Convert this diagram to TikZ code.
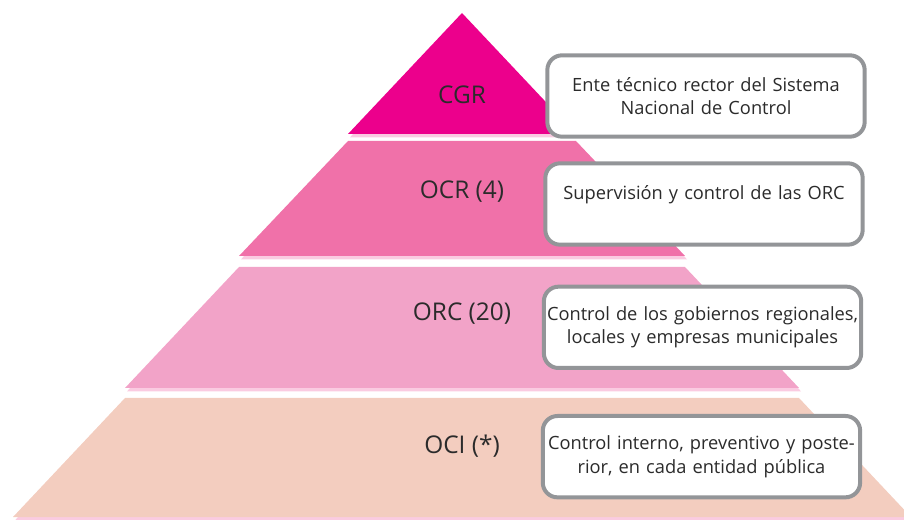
\documentclass[tikz,border=0pt]{standalone}
\usepackage{fontspec}
\setmainfont{Open Sans}
\usepackage{tikz}
\usetikzlibrary{positioning, shadows}
\definecolor{cgrcol}{HTML}{EC008C}
\definecolor{ocrcol}{HTML}{F071A9}
\definecolor{orccol}{HTML}{F2A3C8}
\definecolor{ocicol}{HTML}{F3CDBF}
\definecolor{glow}{HTML}{F06BA8}
\definecolor{boxline}{HTML}{939598}
\definecolor{ink}{HTML}{2B2B2B}
\tikzstyle{layer} = [drop shadow = {shadow xshift = 1.5pt, shadow yshift = -2.5pt, fill = glow, opacity = 0.35}]
\tikzstyle{level} = [text = ink, font = \fontsize{18.3}{21}\selectfont]
\tikzstyle{task} = [rectangle, rounded corners = 11pt, line width = 3pt, draw = boxline, fill = white, inner xsep = 2pt, text width = 234pt, minimum height = 61pt, align = center, text = ink, font = \fontsize{13.7}{17.5}\selectfont]

\begin{document}
\begin{tikzpicture}[x = 0.75pt, y = -0.75pt, node distance = 183pt]
	\useasboundingbox (0,0) rectangle (904,520);
	% pyramid slices
	\fill [layer, ocicol] (125,398) -- (799,398) -- (911,517) -- (13,517) -- cycle;
	\fill [layer, orccol] (239,267) -- (685,267) -- (799,388) -- (125,388) -- cycle;
	\fill [layer, ocrcol] (348,141) -- (576,141) -- (685,256) -- (239,256) -- cycle;
	\fill [layer, cgrcol] (462,13) -- (576,134) -- (348,134) -- cycle;

	\node (cgr)[level] at (462,95) {CGR};
	\node (ocr)[level] at (462,192) {OCR (4)};
	\node (orc)[level] at (462,314) {ORC (20)};
	\node (oci)[level] at (462,446) {OCI (*)};

	\node (cgrtask)[task, right of = cgr, yshift = -0.75pt]{Ente técnico rector del Sistema\\Nacional de Control};
	\node (ocrtask)[task, right of = ocr, xshift = -1.5pt, yshift = -9pt]{Supervisión y control de las ORC\\~};
	\node (orctask)[task, right of = orc, xshift = -2.6pt, yshift = -10pt]{Control de los gobiernos regionales,\\locales y empresas municipales};
	\node (ocitask)[task, right of = oci, xshift = -3.4pt, yshift = -8pt]{Control interno, preventivo y poste-\\rior, en cada entidad pública};
\end{tikzpicture}
\end{document}
